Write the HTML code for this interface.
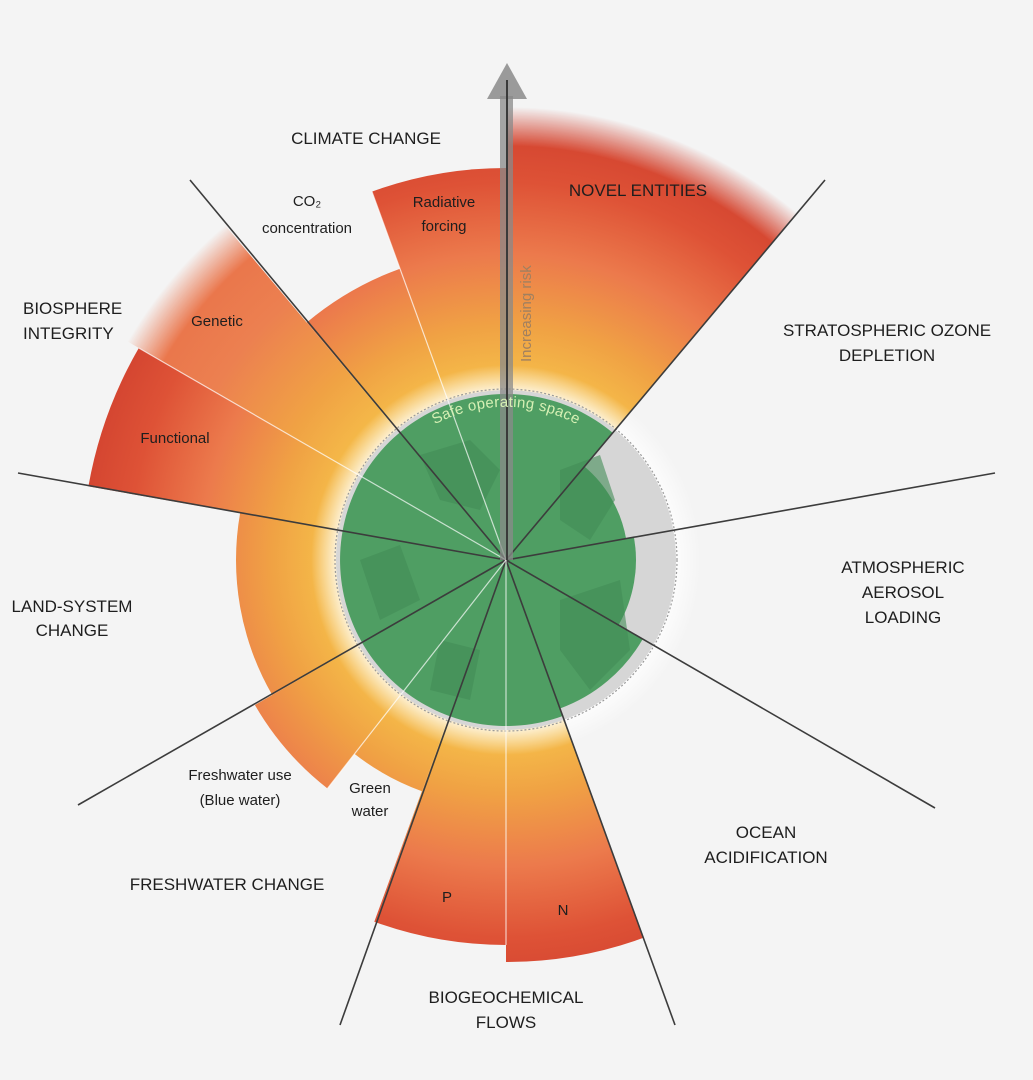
<!DOCTYPE html>
<html><head><meta charset="utf-8"><style>
html,body{margin:0;padding:0;background:#f4f4f4;}
svg{display:block;}
text{font-family:"Liberation Sans",sans-serif;fill:#1e1e1e;}
.cap{font-size:17px;text-anchor:middle;}
.sm{font-size:15px;text-anchor:middle;}
</style></head><body>
<svg id="s" width="1033" height="1080" viewBox="0 0 1033 1080" xmlns="http://www.w3.org/2000/svg">
<defs>
<radialGradient id="g" gradientUnits="userSpaceOnUse" cx="506" cy="560" r="450">
<stop offset="0.38" stop-color="#f6c14a"/>
<stop offset="0.52" stop-color="#f0a244"/>
<stop offset="0.68" stop-color="#ec7a4c"/>
<stop offset="0.84" stop-color="#de5236"/>
<stop offset="1" stop-color="#cf3f2e"/>
</radialGradient>
<radialGradient id="g2" gradientUnits="userSpaceOnUse" cx="506" cy="560" r="450">
<stop offset="0.38" stop-color="#f6c14a"/>
<stop offset="0.55" stop-color="#f0a244"/>
<stop offset="0.75" stop-color="#ec8050"/>
<stop offset="1" stop-color="#e86e48"/>
</radialGradient>
<radialGradient id="fadeN" gradientUnits="userSpaceOnUse" cx="506" cy="560" r="460">
<stop offset="0.9" stop-color="#fff"/><stop offset="0.985" stop-color="#000"/>
</radialGradient>
<radialGradient id="fadeG" gradientUnits="userSpaceOnUse" cx="506" cy="560" r="460">
<stop offset="0.86" stop-color="#fff"/><stop offset="0.95" stop-color="#000"/>
</radialGradient>
<mask id="mN" maskUnits="userSpaceOnUse" x="0" y="0" width="1033" height="1080"><rect width="1033" height="1080" fill="url(#fadeN)"/></mask>
<mask id="mG" maskUnits="userSpaceOnUse" x="0" y="0" width="1033" height="1080"><rect width="1033" height="1080" fill="url(#fadeG)"/></mask>
<radialGradient id="halo" gradientUnits="userSpaceOnUse" cx="506" cy="560" r="195">
<stop offset="0.84" stop-color="#fff" stop-opacity="0.95"/><stop offset="1" stop-color="#fff" stop-opacity="0"/>
</radialGradient>
<path id="arcT" d="M 376 480 A 152 152 0 0 1 636 480"/>
</defs>
<rect width="1033" height="1080" fill="#f4f4f4"/>
<g id="sectors"></g>
<circle cx="506" cy="560" r="195" fill="url(#halo)"/>
<circle cx="506" cy="560" r="170" fill="#d6d6d6"/>
<g id="green"></g>
<circle cx="506" cy="560" r="171" fill="none" stroke="#9a9a9a" stroke-width="1.2" stroke-dasharray="2 2"/>
<g id="lines"></g>
<rect x="500" y="96" width="13" height="464" fill="#8a8a8a" opacity="0.75"/>
<polygon points="487,99 527,99 507,63" fill="#8a8a8a" opacity="0.85"/>
<line x1="507" y1="80" x2="507" y2="560" stroke="#3a3a3a" stroke-width="2"/>
<text x="0" y="0" transform="translate(531,362) rotate(-90)" style="font-size:15px;fill:#a08060">Increasing risk</text>
<text style="font-size:15px;fill:#d6f0b4;letter-spacing:0.3px" text-anchor="middle"><textPath href="#arcT" startOffset="50%">Safe operating space</textPath></text>

<text class="cap" x="366" y="144">CLIMATE CHANGE</text>
<text class="sm" x="307" y="206">CO₂</text>
<text class="sm" x="307" y="233">concentration</text>
<text class="sm" x="444" y="207">Radiative</text>
<text class="sm" x="444" y="231">forcing</text>
<text class="cap" x="638" y="196">NOVEL ENTITIES</text>
<text class="cap" x="887" y="336">STRATOSPHERIC OZONE</text>
<text class="cap" x="887" y="361">DEPLETION</text>
<text class="cap" x="903" y="573">ATMOSPHERIC</text>
<text class="cap" x="903" y="598">AEROSOL</text>
<text class="cap" x="903" y="623">LOADING</text>
<text class="cap" x="766" y="838">OCEAN</text>
<text class="cap" x="766" y="863">ACIDIFICATION</text>
<text class="cap" x="506" y="1003">BIOGEOCHEMICAL</text>
<text class="cap" x="506" y="1028">FLOWS</text>
<text class="sm" x="447" y="902">P</text>
<text class="sm" x="563" y="915">N</text>
<text class="cap" x="227" y="890">FRESHWATER CHANGE</text>
<text class="sm" x="240" y="780">Freshwater use</text>
<text class="sm" x="240" y="805">(Blue water)</text>
<text class="sm" x="370" y="793">Green</text>
<text class="sm" x="370" y="816">water</text>
<text class="cap" x="72" y="612">LAND-SYSTEM</text>
<text class="cap" x="72" y="636">CHANGE</text>
<text class="cap" x="23" y="314" style="text-anchor:start">BIOSPHERE</text>
<text class="cap" x="23" y="339" style="text-anchor:start">INTEGRITY</text>
<text class="sm" x="217" y="326">Genetic</text>
<text class="sm" x="175" y="443">Functional</text>
</svg>
<script>
(function(){
var cx=506,cy=560,NS="http://www.w3.org/2000/svg";
function P(a,r){var t=a*Math.PI/180;return [cx+r*Math.cos(t),cy+r*Math.sin(t)];}
function sec(a1,a2,r){var p1=P(a1,r),p2=P(a2,r);var l=(a2-a1)>180?1:0;
return "M"+cx+" "+cy+" L"+p1[0].toFixed(1)+" "+p1[1].toFixed(1)+" A"+r+" "+r+" 0 "+l+" 1 "+p2[0].toFixed(1)+" "+p2[1].toFixed(1)+" Z";}
function add(g,tag,at){var e=document.createElementNS(NS,tag);for(var k in at)e.setAttribute(k,at[k]);document.getElementById(g).appendChild(e);return e;}
var S=[[-90,-50,455,"mN","g"],[230,250,310],[250,270,392],[210,230,450,"mG","g2"],[190,210,424],[150,190,270],[128,150,290],[110,128,246],[90,110,385],[70,90,402]];
S.forEach(function(s){var at={d:sec(s[0],s[1],s[2]),fill:"url(#"+(s[4]||"g")+")"};if(s[3])at.mask="url(#"+s[3]+")";add("sectors","path",at);});
var G=[[-50,-10,122],[-10,30,130],[30,70,158],[70,310,166]];
G.forEach(function(s){add("green","path",{d:sec(s[0],s[1],s[2]),fill:"#4f9e63"});});
add("green","path",{d:"M420 455 L470 440 L500 470 L480 510 L440 500 Z M560 470 L600 455 L615 500 L590 540 L560 520 Z M560 600 L620 580 L630 650 L590 690 L560 650 Z M360 560 L400 545 L420 600 L380 620 Z M440 640 L480 650 L470 700 L430 690 Z",fill:"#438c57",opacity:"0.6"});
var L=[[825,180],[995,473],[935,808],[675,1025],[340,1025],[78,805],[18,473],[190,180]];
L.forEach(function(p){add("lines","line",{x1:cx,y1:cy,x2:p[0],y2:p[1],stroke:"#3c3c3c","stroke-width":"1.6"});});
[[250,392],[210,424],[128,290],[90,385]].forEach(function(s){var p=P(s[0],s[1]);add("lines","line",{x1:cx,y1:cy,x2:p[0],y2:p[1],stroke:"#ffffff","stroke-width":"1.2",opacity:"0.7"});});
})();
</script>
</body></html>
